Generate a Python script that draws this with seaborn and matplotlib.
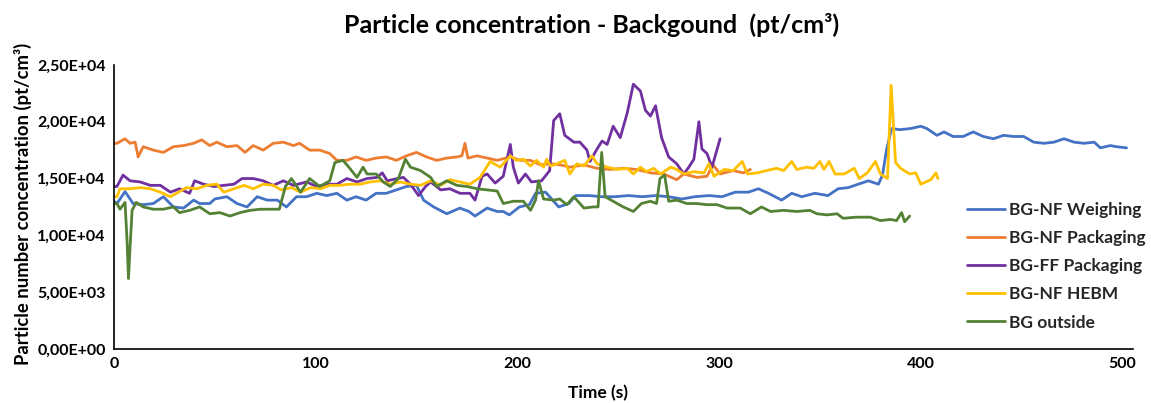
import matplotlib
matplotlib.use("Agg")
import matplotlib.pyplot as plt
from matplotlib.ticker import FuncFormatter
import pandas as pd
import seaborn as sns

# (time in s, particle concentration in pt/cm3)
nf_weighing = [
    (0, 13000), (1.5, 12800), (5.5, 13850), (9.5, 12800), (14.5, 12700), (19.5, 12800),
    (24.5, 13400), (29.5, 12500), (34.5, 12400), (39.5, 13100), (42.5, 12800), (47.5, 12800),
    (50, 13200), (56, 13400), (61, 12800), (66, 12500), (71, 13400), (76, 13100), (81, 13100),
    (85.5, 12500), (90.5, 13400), (95.5, 13400), (100.5, 13700), (105.5, 13500), (110.5, 13700),
    (115.5, 13100), (120, 13400), (125, 13100), (130, 13700), (135, 13700), (140, 14000),
    (145, 14300), (150, 14400), (153.5, 13100), (158.5, 12500), (165, 11900), (171.5, 12400),
    (176, 12100), (179, 11700), (185, 12400), (190, 12100), (193, 12100), (196, 11800),
    (201, 12500), (206, 12700), (209, 13700), (214, 13800), (217.5, 13100), (220.5, 12500),
    (225.5, 12800), (229, 13500), (235.5, 13500), (242, 13400), (248.5, 13400), (255, 13500),
    (262, 13400), (268.5, 13500), (275, 13400), (281.5, 13200), (288, 13400), (295, 13500),
    (301.5, 13400), (308, 13800), (314.5, 13800), (319.5, 14100), (324.5, 13700), (331, 13100),
    (336, 13700), (341, 13400), (347.5, 13700), (354, 13500), (359, 14100), (364, 14200),
    (369, 14500), (374, 14800), (379, 14500), (381, 15300), (383, 17500), (385.5, 19400),
    (389.5, 19300), (395, 19400), (400, 19600), (403, 19400), (408, 18800), (411.5, 19100),
    (416, 18700), (421, 18700), (426, 19100), (431, 18700), (436, 18500), (441, 18800),
    (446, 18700), (451, 18700), (456, 18200), (461, 18100), (466, 18200), (471, 18500),
    (476, 18200), (481, 18100), (486, 18200), (489, 17700), (494, 17900), (497, 17800),
    (502, 17700),
]

nf_packaging = [
    (0, 18100), (1.5, 18100), (5.5, 18500), (8, 18100), (10.5, 18200), (12, 16900),
    (14.5, 17800), (19.5, 17500), (24.5, 17300), (29.5, 17800), (34.5, 17900), (39.5, 18100),
    (43.5, 18400), (47.5, 17900), (51, 18200), (56, 17800), (61, 17900), (65, 17300),
    (69, 17900), (74, 17500), (79, 18100), (84, 18200), (89, 17900), (92, 18100), (97, 17500),
    (102, 17500), (107, 17200), (110.5, 16600), (115.5, 16600), (120, 16900), (125, 16600),
    (130, 16800), (135, 16900), (140, 16600), (145, 17000), (150, 17300), (155, 16900),
    (160, 16600), (165, 16800), (170, 16900), (172.5, 17000), (174, 18100), (175.5, 16800),
    (180, 17000), (185, 16800), (190, 16600), (196.5, 16900), (201.5, 16600), (206.5, 16600),
    (211.5, 16200), (216.5, 16300), (221.5, 16200), (226, 16000), (233, 16200), (239.5, 15900),
    (246, 15800), (252.5, 15900), (259, 15800), (266, 15500), (272.5, 15400), (279, 14900),
    (282.5, 15400), (289, 15100), (294, 15200), (297, 16200), (300.5, 15400), (307, 15700),
    (312, 15500), (315.5, 15800),
]

ff_packaging = [
    (0, 14300), (1.5, 14300), (4.5, 15300), (8, 14800), (13, 14700), (18, 14400), (23, 14400),
    (28, 13800), (32.5, 14100), (37.5, 13700), (40, 14800), (44.5, 14500), (49.5, 14300),
    (54.5, 14400), (59.5, 14500), (63.5, 15000), (69, 15000), (74, 14800), (79, 14400),
    (84, 14800), (89, 14400), (95.5, 14700), (100.5, 14300), (105.5, 14500), (110.5, 14500),
    (115.5, 15000), (120.5, 14700), (125.5, 15000), (130.5, 15100), (133, 15500), (135.5, 14800),
    (140.5, 15000), (143.5, 15100), (147, 14500), (151, 13500), (154.5, 14300), (157, 14700),
    (162, 14000), (166.5, 14100), (171.5, 13700), (176.5, 13700), (179, 13100), (182.5, 15200),
    (185, 15400), (189, 14600), (193, 15200), (196.5, 18000), (198, 16000), (200.5, 14600),
    (204, 15400), (207, 14700), (212, 14800), (216, 15700), (218, 20100), (221, 20700),
    (223.5, 18800), (228, 18200), (231, 18200), (234.5, 17500), (236, 16500), (239.5, 17600),
    (242, 18300), (244.5, 18000), (247.5, 19600), (251, 18600), (254.5, 20800), (257.5, 23300),
    (261, 22700), (263.5, 21000), (266, 20500), (268.5, 21400), (271.5, 18600), (275, 16900),
    (279, 16300), (282.5, 15400), (285, 16000), (287.5, 16700), (290, 20000), (291.5, 17600),
    (294, 17200), (296.5, 16000), (300.5, 18500),
]

nf_hebm = [
    (0, 13400), (1.5, 13400), (3, 14100), (8, 14100), (13, 14200), (18, 14100), (23, 13800),
    (28, 13400), (32, 13800), (36, 14200), (41, 14100), (46, 14400), (51, 14500), (54.5, 13800),
    (59.5, 14100), (64.5, 14400), (69, 14100), (74, 14500), (79, 14400), (83, 14000),
    (88, 14200), (92.5, 13800), (97.5, 14200), (102.5, 14100), (107, 14400), (112, 14400),
    (117, 14500), (122, 14500), (127, 14700), (132, 14800), (137, 14500), (142, 14700),
    (147, 14500), (152, 14400), (157, 14800), (162, 14400), (166.5, 14900), (171.5, 14700),
    (176.5, 14500), (181.5, 15100), (186.5, 16500), (191.5, 16000), (196.5, 17000),
    (199.5, 16600), (203, 16700), (206.5, 16100), (209.5, 16600), (213, 16000), (214.5, 16700),
    (216.5, 16100), (219.5, 16300), (223.5, 16600), (226, 15400), (229.5, 16300), (233, 16100),
    (237, 17000), (239.5, 16300), (244.5, 16000), (249.5, 15800), (254.5, 15900), (257.5, 15400),
    (261, 16000), (264, 15600), (267.5, 15900), (271, 15400), (276, 16000), (279, 15800),
    (282.5, 15400), (287.5, 15600), (292.5, 15500), (295, 16300), (297.5, 15200), (302.5, 15800),
    (307, 15700), (311.5, 16500), (314, 15400), (319, 15500), (323.5, 15700), (328.5, 15900),
    (332, 15700), (336, 16500), (338.5, 15800), (343.5, 16000), (347, 15900), (350, 16500),
    (352, 15800), (354.5, 16500), (357.5, 15400), (362, 15400), (367, 15900), (369.5, 15000),
    (373.5, 15500), (377.5, 16500), (380, 15400), (383.5, 15000), (385.3, 23200), (387.5, 16400),
    (390, 15900), (394.5, 15400), (397.5, 15500), (400, 14500), (402.5, 14700), (405, 14900),
    (407.5, 15500), (408.5, 15000),
]

bg_outside = [
    (0, 12800), (1.5, 12800), (3, 12300), (5.5, 12900), (6.5, 9500), (7.2, 6200), (8, 9000),
    (9, 12200), (11, 12900), (14.5, 12500), (19.5, 12300), (24.5, 12300), (29.5, 12500),
    (32.5, 12000), (37.5, 12200), (42.5, 12500), (47.5, 11900), (52.5, 12000), (57.5, 11700),
    (62.5, 12000), (67.5, 12200), (72.5, 12300), (77.5, 12300), (82, 12300), (85, 14300),
    (88, 15000), (92.5, 13800), (97, 15000), (102, 14300), (107, 14800), (109.5, 16400),
    (113.5, 16600), (116, 16100), (120.5, 15100), (123.5, 16000), (125.5, 15400), (130, 15400),
    (133.5, 14700), (137, 14300), (141, 15000), (144.5, 16700), (147, 16000), (152, 15700),
    (157, 15100), (160, 14300), (165, 14800), (170, 14400), (175, 14300), (180, 14100),
    (185, 14000), (190, 13900), (193, 12800), (198, 13000), (203, 13000), (206.5, 12200),
    (209, 13100), (210.5, 14800), (213, 13200), (218, 13100), (221, 13200), (224.5, 12700),
    (228, 13400), (233, 12400), (237.5, 12500), (240, 12500), (241.8, 17300), (243.5, 13400),
    (247.5, 13000), (252.5, 12500), (257.5, 12100), (261.5, 12800), (266, 13000), (269, 12800),
    (270.7, 15000), (273, 15300), (275, 13000), (279, 13100), (284, 12800), (289, 12800),
    (294, 12700), (299, 12700), (304, 12400), (310.5, 12400), (315.5, 11900), (321, 12500),
    (325.5, 12100), (332, 12200), (338.5, 12100), (345, 12200), (348.5, 11900), (353.5, 11800),
    (358.5, 11900), (361.5, 11500), (368, 11600), (375, 11600), (380, 11300), (385, 11400),
    (388, 11300), (390.5, 12000), (392, 11200), (394.5, 11700),
]

series_names = ["BG-NF Weighing", "BG-NF Packaging", "BG-FF Packaging", "BG-NF HEBM", "BG outside"]
series_data = [nf_weighing, nf_packaging, ff_packaging, nf_hebm, bg_outside]
series_colors = ["#4472C4", "#ED7D31", "#7030A0", "#FFC000", "#548235"]
x_ticks = [0, 100, 200, 300, 400, 500]
y_ticks = [0, 5000, 10000, 15000, 20000, 25000]

frames = []
for name, pts in zip(series_names, series_data):
    df = pd.DataFrame(pts, columns=["time", "conc"])
    df["series"] = name
    frames.append(df)
data = pd.concat(frames, ignore_index=True)

sns.set_theme(style="white")
plt.rcParams["font.family"] = ["Lato", "DejaVu Sans"]

fig = plt.figure(figsize=(11.51, 4.03), dpi=100)
ax = fig.add_axes([0.099, 0.134, 0.885, 0.705])

sns.lineplot(data=data, x="time", y="conc", hue="series", hue_order=series_names,
             palette=dict(zip(series_names, series_colors)), estimator=None,
             linewidth=2.0, ax=ax)

ax.set_xlim(0, 505)
ax.set_ylim(0, 25000)
ax.set_xticks(x_ticks)
ax.set_yticks(y_ticks)
ax.yaxis.set_major_formatter(FuncFormatter(lambda v, p: f"{v:.2E}".replace(".", ",")))
ax.tick_params(axis="both", length=0, labelsize=11.5, colors="black", pad=6)
for lab in ax.get_xticklabels() + ax.get_yticklabels():
    lab.set_fontweight("bold")

for side in ("top", "right"):
    ax.spines[side].set_visible(False)
for side in ("left", "bottom"):
    ax.spines[side].set_color("black")
    ax.spines[side].set_linewidth(1.2)

ax.set_xlabel("Time (s)", fontsize=12.5, fontweight="bold", color="black")
ax.xaxis.set_label_coords((598 - 114) / (0.885 * 1151), -0.125)
ax.set_ylabel("Particle number concentration (pt/cm³)", fontsize=13.3, fontweight="bold", color="black")
ax.yaxis.set_label_coords(-0.08, 0.51)

fig.text(0.514, 0.937, "Particle concentration - Backgound  (pt/cm³)", ha="center", va="center",
         fontsize=18, fontweight="bold", color="black")

handles, labels = ax.get_legend_handles_labels()
leg = ax.legend(handles, labels, loc="upper left", bbox_to_anchor=(960 / 1151, 1 - 195 / 403),
                bbox_transform=fig.transFigure, frameon=False, fontsize=12.5,
                handlelength=2.2, handletextpad=0.25, labelspacing=0.7, borderaxespad=0)
for t in leg.get_texts():
    t.set_fontweight("bold")
for l in leg.get_lines():
    l.set_linewidth(2.0)

fig.savefig("out.png", dpi=100, facecolor="white")
